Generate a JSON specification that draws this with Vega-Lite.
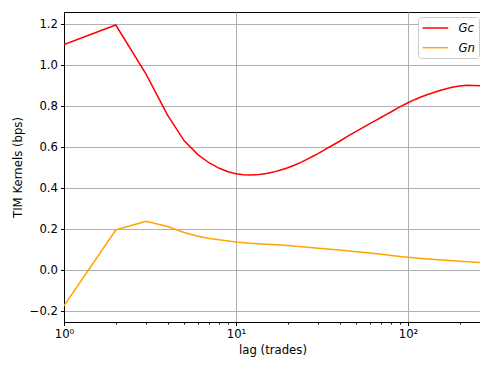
{
  "$schema": "https://vega.github.io/schema/vega-lite/v6.json",
  "autosize": "none",
  "width": 417,
  "height": 310,
  "padding": {"left": 64, "top": 12, "right": 0, "bottom": 43},
  "background": "white",
  "config": {
    "font": "DejaVu Sans",
    "view": {"stroke": "black", "strokeWidth": 1}
  },
  "data": {
    "values": [
      {"lag": 1, "value": 1.10, "series": "Gc"},
      {"lag": 2, "value": 1.195, "series": "Gc"},
      {"lag": 3, "value": 0.955, "series": "Gc"},
      {"lag": 4, "value": 0.755, "series": "Gc"},
      {"lag": 5, "value": 0.63, "series": "Gc"},
      {"lag": 6, "value": 0.563, "series": "Gc"},
      {"lag": 7, "value": 0.522, "series": "Gc"},
      {"lag": 8, "value": 0.496, "series": "Gc"},
      {"lag": 9, "value": 0.479, "series": "Gc"},
      {"lag": 10, "value": 0.469, "series": "Gc"},
      {"lag": 11, "value": 0.465, "series": "Gc"},
      {"lag": 12, "value": 0.463, "series": "Gc"},
      {"lag": 13, "value": 0.464, "series": "Gc"},
      {"lag": 14, "value": 0.467, "series": "Gc"},
      {"lag": 15, "value": 0.471, "series": "Gc"},
      {"lag": 16, "value": 0.476, "series": "Gc"},
      {"lag": 17, "value": 0.481, "series": "Gc"},
      {"lag": 18, "value": 0.487, "series": "Gc"},
      {"lag": 19, "value": 0.493, "series": "Gc"},
      {"lag": 20, "value": 0.499, "series": "Gc"},
      {"lag": 22, "value": 0.512, "series": "Gc"},
      {"lag": 24, "value": 0.526, "series": "Gc"},
      {"lag": 26, "value": 0.541, "series": "Gc"},
      {"lag": 28, "value": 0.555, "series": "Gc"},
      {"lag": 30, "value": 0.568, "series": "Gc"},
      {"lag": 33, "value": 0.588, "series": "Gc"},
      {"lag": 36, "value": 0.606, "series": "Gc"},
      {"lag": 40, "value": 0.628, "series": "Gc"},
      {"lag": 45, "value": 0.654, "series": "Gc"},
      {"lag": 50, "value": 0.676, "series": "Gc"},
      {"lag": 55, "value": 0.696, "series": "Gc"},
      {"lag": 60, "value": 0.714, "series": "Gc"},
      {"lag": 65, "value": 0.730, "series": "Gc"},
      {"lag": 70, "value": 0.745, "series": "Gc"},
      {"lag": 75, "value": 0.759, "series": "Gc"},
      {"lag": 80, "value": 0.772, "series": "Gc"},
      {"lag": 90, "value": 0.797, "series": "Gc"},
      {"lag": 100, "value": 0.816, "series": "Gc"},
      {"lag": 110, "value": 0.832, "series": "Gc"},
      {"lag": 120, "value": 0.845, "series": "Gc"},
      {"lag": 130, "value": 0.856, "series": "Gc"},
      {"lag": 140, "value": 0.865, "series": "Gc"},
      {"lag": 150, "value": 0.873, "series": "Gc"},
      {"lag": 165, "value": 0.883, "series": "Gc"},
      {"lag": 180, "value": 0.891, "series": "Gc"},
      {"lag": 200, "value": 0.898, "series": "Gc"},
      {"lag": 220, "value": 0.901, "series": "Gc"},
      {"lag": 240, "value": 0.900, "series": "Gc"},
      {"lag": 266, "value": 0.899, "series": "Gc"},
      {"lag": 1, "value": -0.175, "series": "Gn"},
      {"lag": 2, "value": 0.195, "series": "Gn"},
      {"lag": 3, "value": 0.238, "series": "Gn"},
      {"lag": 4, "value": 0.212, "series": "Gn"},
      {"lag": 5, "value": 0.183, "series": "Gn"},
      {"lag": 6, "value": 0.165, "series": "Gn"},
      {"lag": 7, "value": 0.154, "series": "Gn"},
      {"lag": 8, "value": 0.147, "series": "Gn"},
      {"lag": 9, "value": 0.142, "series": "Gn"},
      {"lag": 10, "value": 0.137, "series": "Gn"},
      {"lag": 12, "value": 0.131, "series": "Gn"},
      {"lag": 14, "value": 0.127, "series": "Gn"},
      {"lag": 16, "value": 0.124, "series": "Gn"},
      {"lag": 18, "value": 0.122, "series": "Gn"},
      {"lag": 20, "value": 0.119, "series": "Gn"},
      {"lag": 25, "value": 0.112, "series": "Gn"},
      {"lag": 30, "value": 0.106, "series": "Gn"},
      {"lag": 35, "value": 0.101, "series": "Gn"},
      {"lag": 40, "value": 0.097, "series": "Gn"},
      {"lag": 50, "value": 0.089, "series": "Gn"},
      {"lag": 60, "value": 0.083, "series": "Gn"},
      {"lag": 70, "value": 0.077, "series": "Gn"},
      {"lag": 80, "value": 0.071, "series": "Gn"},
      {"lag": 90, "value": 0.066, "series": "Gn"},
      {"lag": 100, "value": 0.062, "series": "Gn"},
      {"lag": 120, "value": 0.056, "series": "Gn"},
      {"lag": 150, "value": 0.050, "series": "Gn"},
      {"lag": 200, "value": 0.043, "series": "Gn"},
      {"lag": 266, "value": 0.036, "series": "Gn"}
    ]
  },
  "mark": {"type": "line", "strokeWidth": 1.5, "clip": true},
  "encoding": {
    "x": {
      "field": "lag",
      "type": "quantitative",
      "scale": {"type": "log", "domain": [1, 265.7], "nice": false, "zero": false},
      "axis": {
        "title": "lag (trades)",
        "titleFontSize": 11.7,
        "titleFontWeight": "normal",
        "titleColor": "black",
        "titlePadding": 4,
        "values": [1, 2, 3, 4, 5, 6, 7, 8, 9, 10, 20, 30, 40, 50, 60, 70, 80, 90, 100, 200],
        "labelExpr": "datum.value == 1 ? '10⁰' : datum.value == 10 ? '10¹' : datum.value == 100 ? '10²' : ''",
        "labelFontSize": 11.7,
        "labelColor": "black",
        "labelFlush": false,
        "labelPadding": 3,
        "labelOverlap": false,
        "domainColor": "black",
        "tickColor": "black",
        "tickSize": {"condition": {"test": "datum.value == 1 || datum.value == 10 || datum.value == 100", "value": 3.5}, "value": 2},
        "grid": true,
        "gridColor": "#b0b0b0",
        "gridWidth": 1,
        "gridOpacity": {"condition": {"test": "datum.value == 1 || datum.value == 10 || datum.value == 100", "value": 1}, "value": 0}
      }
    },
    "y": {
      "field": "value",
      "type": "quantitative",
      "scale": {"domain": [-0.2537, 1.2585], "nice": false, "zero": false},
      "axis": {
        "title": "TIM Kernels (bps)",
        "titleFontSize": 11.7,
        "titleFontWeight": "normal",
        "titleColor": "black",
        "titlePadding": 6,
        "values": [-0.2, 0, 0.2, 0.4, 0.6, 0.8, 1.0, 1.2],
        "format": ".1f",
        "labelExpr": "replace(datum.label, '-', '−')",
        "labelFontSize": 11.7,
        "labelColor": "black",
        "labelPadding": 3,
        "labelFlush": false,
        "domainColor": "black",
        "tickColor": "black",
        "tickSize": 3.5,
        "grid": true,
        "gridColor": "#b0b0b0",
        "gridWidth": 1
      }
    },
    "color": {
      "field": "series",
      "type": "nominal",
      "scale": {"domain": ["Gc", "Gn"], "range": ["#ff0000", "#ffa500"]},
      "legend": {
        "title": null,
        "orient": "none",
        "legendX": 354,
        "legendY": 5,
        "symbolType": "M-1,0H3",
        "symbolSize": 164,
        "symbolStrokeWidth": 1.5,
        "labelFontSize": 11.7,
        "labelFontStyle": "italic",
        "labelColor": "black",
        "labelOffset": 22,
        "rowPadding": 4.7,
        "padding": 3.5,
        "strokeColor": "#cccccc",
        "fillColor": "white",
        "cornerRadius": 3
      }
    }
  }
}
